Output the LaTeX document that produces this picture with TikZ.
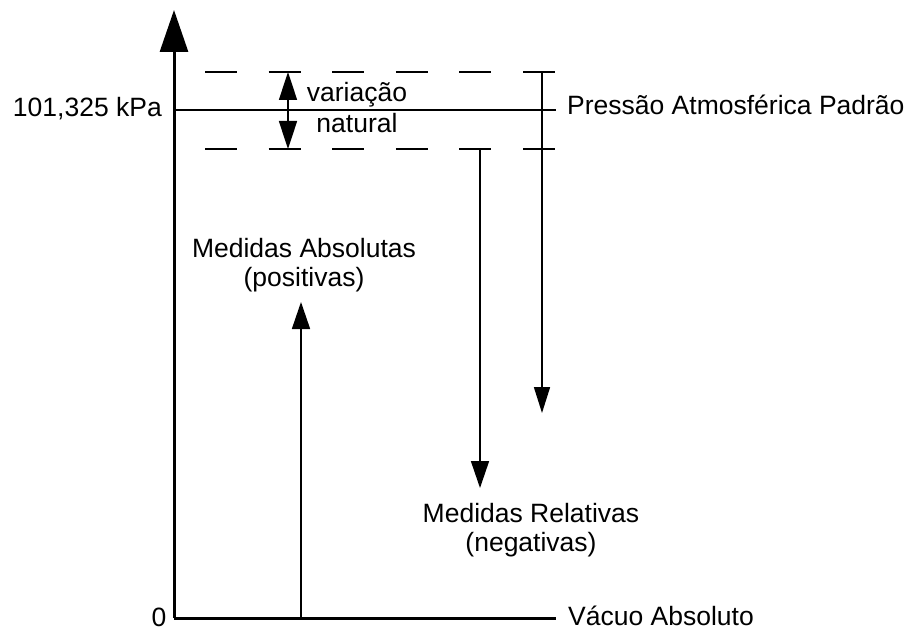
\documentclass[tikz,border=0pt]{standalone}
\usepackage{fontspec}
\setmainfont{Liberation Sans}
\usetikzlibrary{arrows.meta}
\begin{document}
\begin{tikzpicture}[x=1pt,y=-1pt,
  lbl/.style={font=\fontsize{26.5}{30}\selectfont, inner sep=0pt, text=black},
  axisline/.style={line width=3pt},
  refline/.style={line width=2.6pt},
  dashline/.style={line width=1.6pt, dash pattern=on 32pt off 31.6pt},
  thinarrow/.style={line width=1.6pt, -{Triangle[length=27pt,width=18pt]}},
  bigtip/.style={-{Triangle[length=42pt,width=28pt]}}
]
\useasboundingbox (0,0) rectangle (910,631);

% coordinates
\coordinate (O) at (174,618);
\coordinate (top) at (174,10);
\coordinate (botend) at (556,618);
\coordinate (atmL) at (174,110);
\coordinate (atmR) at (556,110);
\coordinate (upL) at (205,72);
\coordinate (upR) at (556,72);
\coordinate (loL) at (205,149);
\coordinate (loR) at (556,149);
\coordinate (varT) at (288,72);
\coordinate (varB) at (288,149);
\coordinate (r1s) at (542,72);
\coordinate (r1e) at (542,413);
\coordinate (r2s) at (480,149);
\coordinate (r2e) at (480,488);
\coordinate (a1s) at (301,618);
\coordinate (a1e) at (301,302);

% axes
\draw[axisline, bigtip] (O) -- (top);
\draw[axisline] (O) -- (botend);
\draw[refline] (atmL) -- (atmR);

% dashed limits
\draw[dashline] (upL) -- (upR);
\draw[dashline] (loL) -- (loR);

% arrows
\draw[line width=1.6pt, {Triangle[length=28pt,width=18pt]}-{Triangle[length=28pt,width=18pt]}] (varT) -- (varB);
\draw[thinarrow, -{Triangle[length=26pt,width=16pt]}] (r1s) -- (r1e);
\draw[thinarrow] (r2s) -- (r2e);
\draw[thinarrow] (a1s) -- (a1e);

% labels
\node[lbl, anchor=base east] (kpa) at (162,117) {101,325 kPa};
\node[lbl, anchor=base west] (patm) at (567,115) {Pressão Atmosférica Padrão};
\node[lbl, anchor=base] (var1) at (357,102) {variação};
\node[lbl, anchor=base] (var2) at (357,133) {natural};
\node[lbl, anchor=base] (abs1) at (304,257) {Medidas Absolutas};
\node[lbl, anchor=base] (abs2) at (304,286) {(positivas)};
\node[lbl, anchor=base] (rel1) at (531,522) {Medidas Relativas};
\node[lbl, anchor=base] (rel2) at (531,551) {(negativas)};
\node[lbl, anchor=base] (zero) at (159,626) {0};
\node[lbl, anchor=base west] (vac) at (568,625) {Vácuo Absoluto};
\end{tikzpicture}
\end{document}
